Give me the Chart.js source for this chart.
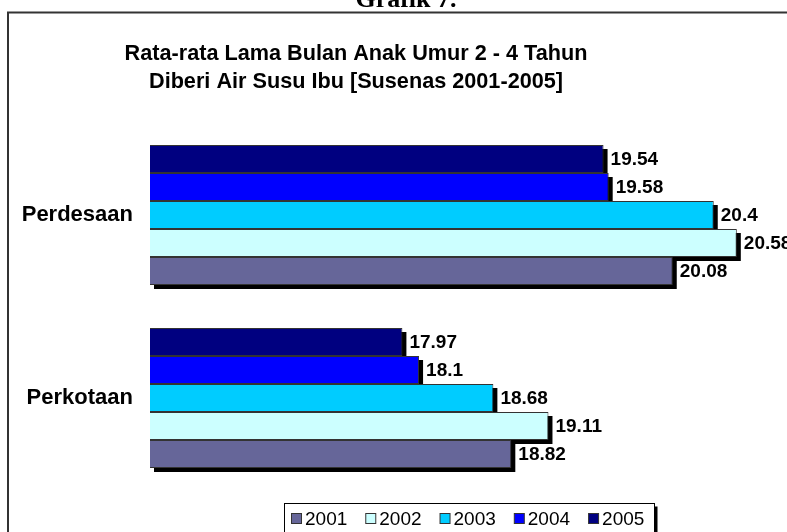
<!DOCTYPE html>
<html>
<head>
<meta charset="utf-8">
<script src="https://cdn.jsdelivr.net/npm/chart.js@4/dist/chart.umd.min.js"></script>
<style>
html,body{margin:0;padding:0;background:#fff;overflow:hidden;}
canvas{display:block;}
</style>
</head>
<body>
<canvas id="c" width="787" height="532"></canvas>
<script>
const categories = ["Perdesaan", "Perkotaan"];
const years = ["2005", "2004", "2003", "2002", "2001"];
const values2005 = [19.54, 17.97];
const values2004 = [19.58, 18.1];
const values2003 = [20.4, 18.68];
const values2002 = [20.58, 19.11];
const values2001 = [20.08, 18.82];
const seriesValues = [values2005, values2004, values2003, values2002, values2001];
const colors = ["#000080", "#0000FF", "#00CCFF", "#CCFFFF", "#666699"];
const titleLines = ["Rata-rata Lama Bulan Anak Umur 2 - 4 Tahun", "Diberi Air Susu Ibu [Susenas 2001-2005]"];
const headerText = "Grafik 7.";

const datasets = years.map((y, i) => ({
  label: y,
  data: seriesValues[i],
  backgroundColor: colors[i],
  borderColor: "#333333",
  borderWidth: 1,
  barPercentage: 1.0,
  categoryPercentage: 0.765
}));

const decorPlugin = {
  id: "decor",
  beforeDraw(chart) {
    const ctx = chart.ctx;
    ctx.save();
    ctx.fillStyle = "#fff";
    ctx.fillRect(0, 0, chart.width, chart.height);
    // header clipped at top
    ctx.fillStyle = "#000";
    ctx.font = "bold 26px 'Liberation Serif', 'Times New Roman', serif";
    ctx.textAlign = "center";
    ctx.textBaseline = "alphabetic";
    ctx.fillText(headerText, 406, 7);
    // frame
    ctx.strokeStyle = "#333";
    ctx.lineWidth = 2;
    ctx.strokeRect(8, 12.5, 790, 560);
    // title
    ctx.font = "bold 22px Arial, 'Liberation Sans', sans-serif";
    const w1 = ctx.measureText(titleLines[0]).width;
    const fs = 22 * 463 / w1;
    ctx.font = "bold " + fs.toFixed(2) + "px Arial, 'Liberation Sans', sans-serif";
    ctx.textAlign = "center";
    ctx.fillText(titleLines[0], 356, 60);
    ctx.fillText(titleLines[1], 356, 88);
    ctx.restore();
  },
  beforeDatasetsDraw(chart) {
    const ctx = chart.ctx;
    const area = chart.chartArea;
    ctx.save();
    ctx.fillStyle = "#000";
    chart.data.datasets.forEach((ds, di) => {
      const meta = chart.getDatasetMeta(di);
      meta.data.forEach(el => {
        const left = Math.max(Math.min(el.x, el.base), area.left);
        const right = Math.max(el.x, el.base);
        ctx.fillRect(left + 4, el.y - el.height / 2 + 4, right - left, el.height);
      });
    });
    ctx.restore();
  },
  afterDatasetsDraw(chart) {
    const ctx = chart.ctx;
    ctx.save();
    ctx.fillStyle = "#000";
    ctx.font = "bold 19px Arial, 'Liberation Sans', sans-serif";
    ctx.textAlign = "left";
    ctx.textBaseline = "middle";
    chart.data.datasets.forEach((ds, di) => {
      const meta = chart.getDatasetMeta(di);
      meta.data.forEach((el, i) => {
        ctx.fillText(String(ds.data[i]), el.x + 7, el.y + 1);
      });
    });
    ctx.restore();
  },
  afterDraw(chart) {
    const ctx = chart.ctx;
    ctx.save();
    // legend box with shadow
    const bx = 284.5, by = 503.5, bw = 370, bh = 40;
    ctx.fillStyle = "#000";
    ctx.fillRect(bx + bw, by + 3, 3, bh);
    ctx.fillStyle = "#fff";
    ctx.fillRect(bx, by, bw, bh);
    ctx.strokeStyle = "#000";
    ctx.lineWidth = 1;
    ctx.strokeRect(bx, by, bw, bh);
    ctx.font = "19px Arial, 'Liberation Sans', sans-serif";
    ctx.textBaseline = "middle";
    ctx.textAlign = "left";
    let x = 291;
    const yc = 519;
    const order = chart.data.datasets.map((d, i) => i).reverse();
    order.forEach(i => {
      const ds = chart.data.datasets[i];
      ctx.fillStyle = ds.backgroundColor;
      ctx.fillRect(x + 0.5, yc - 5.5, 10, 10);
      ctx.strokeStyle = "#333";
      ctx.strokeRect(x + 0.5, yc - 5.5, 10, 10);
      ctx.fillStyle = "#000";
      ctx.fillText(ds.label, x + 14, yc + 1);
      x += 14 + ctx.measureText(ds.label).width + 18;
    });
    ctx.restore();
  }
};

new Chart(document.getElementById("c"), {
  type: "bar",
  data: { labels: categories, datasets: datasets },
  options: {
    indexAxis: "y",
    responsive: false,
    animation: false,
    devicePixelRatio: 1,
    layout: { padding: { left: 0, right: 22, top: 123.5, bottom: 42.5 } },
    plugins: {
      legend: { display: false },
      title: { display: false },
      tooltip: { enabled: false }
    },
    scales: {
      x: { display: false, min: 16, max: 20.8 },
      y: {
        display: true,
        grid: { display: false, drawTicks: false },
        border: { display: false },
        ticks: {
          color: "#000",
          padding: 17,
          font: { family: "Arial, 'Liberation Sans', sans-serif", size: 22, weight: "bold" }
        },
        afterFit(scale) { scale.width = 150; }
      }
    }
  },
  plugins: [decorPlugin]
});
</script>
</body>
</html>
